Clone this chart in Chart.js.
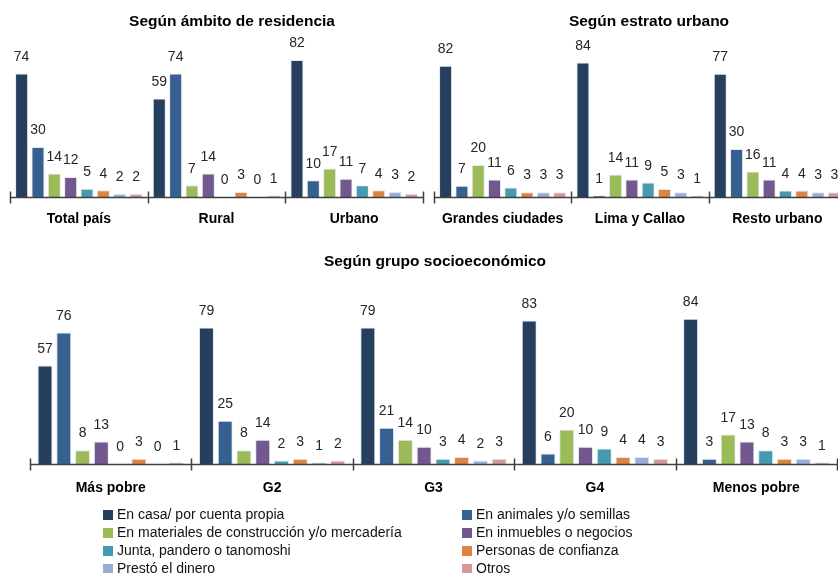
<!DOCTYPE html>
<html><head><meta charset="utf-8">
<script src="https://cdn.jsdelivr.net/npm/chart.js@4.4.0/dist/chart.umd.min.js"></script>
<style>
html,body{margin:0;padding:0;background:#fff;overflow:hidden;width:838px;height:573px;}
#wrap{position:relative;width:838px;height:573px;overflow:hidden;background:#fff;}
canvas{position:absolute;}
#legend{position:absolute;left:0;top:0;width:838px;height:573px;font-family:"Liberation Sans",Arial,sans-serif;font-size:14px;color:#111;pointer-events:none;}
.li{position:absolute;white-space:nowrap;line-height:16px;height:16px;}
.sw{display:inline-block;width:10px;height:10px;margin-right:4px;vertical-align:-1px;}
</style></head><body><div id="wrap">
<canvas id="c1" width="440" height="240" style="left:0;top:0"></canvas>
<canvas id="c2" width="430" height="240" style="left:424px;top:0"></canvas>
<canvas id="c3" width="838" height="267" style="left:0;top:240px"></canvas>
<div id="legend"></div>
</div>
<script>
// ---- Series ----
const seriesNames = [
  'En casa/ por cuenta propia',
  'En animales y/o semillas',
  'En materiales de construcción y/o mercadería',
  'En inmuebles o negocios',
  'Junta, pandero o tanomoshi',
  'Personas de confianza',
  'Prestó el dinero',
  'Otros'
];
const seriesColors = ['#263F5F','#36608F','#9BBB59','#72588F','#4599B0','#DD8540','#98AED5','#D69898'];

// ---- Panel titles ----
const titleResidencia = 'Según ámbito de residencia';
const titleEstrato = 'Según estrato urbano';
const titleGrupo = 'Según grupo socioeconómico';

// ---- Categories ----
const residenciaCats = ['Total país','Rural','Urbano'];
const estratoCats = ['Grandes ciudades','Lima y Callao','Resto urbano'];
const grupoCats = ['Más pobre','G2','G3','G4','Menos pobre'];

// ---- Values (per category, in series order) ----
const totalPais       = [74, 30, 14, 12, 5, 4, 2, 2];
const rural           = [59, 74, 7, 14, 0, 3, 0, 1];
const urbano          = [82, 10, 17, 11, 7, 4, 3, 2];
const grandesCiudades = [82, 7, 20, 11, 6, 3, 3, 3];
const limaCallao      = [84, 1, 14, 11, 9, 5, 3, 1];
const restoUrbano     = [77, 30, 16, 11, 4, 4, 3, 3];
const masPobre        = [57, 76, 8, 13, 0, 3, 0, 1];
const g2              = [79, 25, 8, 14, 2, 3, 1, 2];
const g3              = [79, 21, 14, 10, 3, 4, 2, 3];
const g4              = [83, 6, 20, 10, 9, 4, 4, 3];
const menosPobre      = [84, 3, 17, 13, 8, 3, 3, 1];

const residenciaRows = [totalPais, rural, urbano];
const estratoRows = [grandesCiudades, limaCallao, restoUrbano];
const grupoRows = [masPobre, g2, g3, g4, menosPobre];

// ---- Plugins ----
const FONT = '"Liberation Sans", Arial, sans-serif';
const valueLabels = {
  id: 'valueLabels',
  afterDatasetsDraw(chart) {
    const ctx = chart.ctx;
    chart.data.datasets.forEach((ds, i) => {
      chart.getDatasetMeta(i).data.forEach((bar, j) => {
        ctx.save();
        ctx.font = '15.5px ' + FONT;
        ctx.fillStyle = '#262626';
        ctx.textAlign = 'center';
        ctx.textBaseline = 'middle';
        ctx.translate(bar.x, bar.y - 17);
        ctx.scale(0.9, 1);
        ctx.fillText(String(ds.data[j]), 0, 0);
        ctx.restore();
      });
    });
  }
};
const axisTicks = {
  id: 'axisTicks',
  afterDraw(chart) {
    const xs = chart.scales.x, ca = chart.chartArea, ctx = chart.ctx;
    const n = chart.data.labels.length;
    const y = Math.round(ca.bottom) + 0.5;
    ctx.save();
    ctx.strokeStyle = '#404040';
    ctx.lineWidth = 1.5;
    ctx.beginPath();
    ctx.moveTo(ca.left, y); ctx.lineTo(ca.right, y);
    for (let k = 0; k <= n; k++) {
      const px = Math.round(xs.getPixelForValue(k - 0.5)) + 0.5;
      ctx.moveTo(px, y - 6); ctx.lineTo(px, y + 6);
    }
    ctx.stroke();
    ctx.restore();
  }
};
const panelTitle = {
  id: 'panelTitle',
  afterDraw(chart, args, opts) {
    const ctx = chart.ctx;
    ctx.save();
    ctx.font = 'bold 15.5px ' + FONT;
    ctx.fillStyle = '#000';
    ctx.textAlign = 'center';
    ctx.textBaseline = 'middle';
    ctx.fillText(opts.text, opts.x, opts.y);
    ctx.restore();
  }
};

function makeChart(id, cats, rows, title, titleX, yMax, pad, catPct, labelPad) {
  const datasets = seriesNames.map((name, s) => ({
    label: name,
    data: rows.map(r => r[s]),
    backgroundColor: seriesColors[s],
    borderColor: 'rgba(225,230,238,0.9)',
    borderWidth: 1,
    barPercentage: 0.8,
    categoryPercentage: catPct
  }));
  return new Chart(document.getElementById(id), {
    type: 'bar',
    data: { labels: cats, datasets },
    plugins: [valueLabels, axisTicks, panelTitle],
    options: {
      responsive: false,
      animation: false,
      devicePixelRatio: 1,
      layout: { padding: pad },
      plugins: {
        legend: { display: false },
        tooltip: { enabled: false },
        title: { display: false },
        panelTitle: { text: title, x: titleX, y: 22 }
      },
      scales: {
        x: {
          grid: { display: false, drawTicks: false },
          border: { display: false },
          ticks: { color: '#000', font: { family: FONT, size: 14, weight: 'bold' }, padding: labelPad, maxRotation: 0, autoSkip: false },
          afterFit(scale) { scale.height = 43; }
        },
        y: { display: false, min: 0, max: yMax }
      }
    }
  });
}

makeChart('c1', residenciaCats, residenciaRows, titleResidencia, 232, 99.4, {left: 10, right: 17, top: 31, bottom: 0}, 0.95, 14);
makeChart('c2', estratoCats, estratoRows, titleEstrato, 225, 103.75, {left: 10, right: 8, top: 31, bottom: 0}, 0.95, 14);
makeChart('c3', grupoCats, grupoRows, titleGrupo, 435, 111.6, {left: 30, right: 1, top: 31, bottom: 0}, 0.93, 16);

// ---- Legend (2 columns, row-major) ----
const lg = document.getElementById('legend');
seriesNames.forEach((name, i) => {
  const col = i % 2, row = Math.floor(i / 2);
  const d = document.createElement('div');
  d.className = 'li';
  d.style.left = (col ? 462 : 103) + 'px';
  d.style.top = (506 + row * 18) + 'px';
  const sw = document.createElement('span');
  sw.className = 'sw';
  sw.style.background = seriesColors[i];
  d.appendChild(sw);
  d.appendChild(document.createTextNode(name));
  lg.appendChild(d);
});
</script>
</body></html>
